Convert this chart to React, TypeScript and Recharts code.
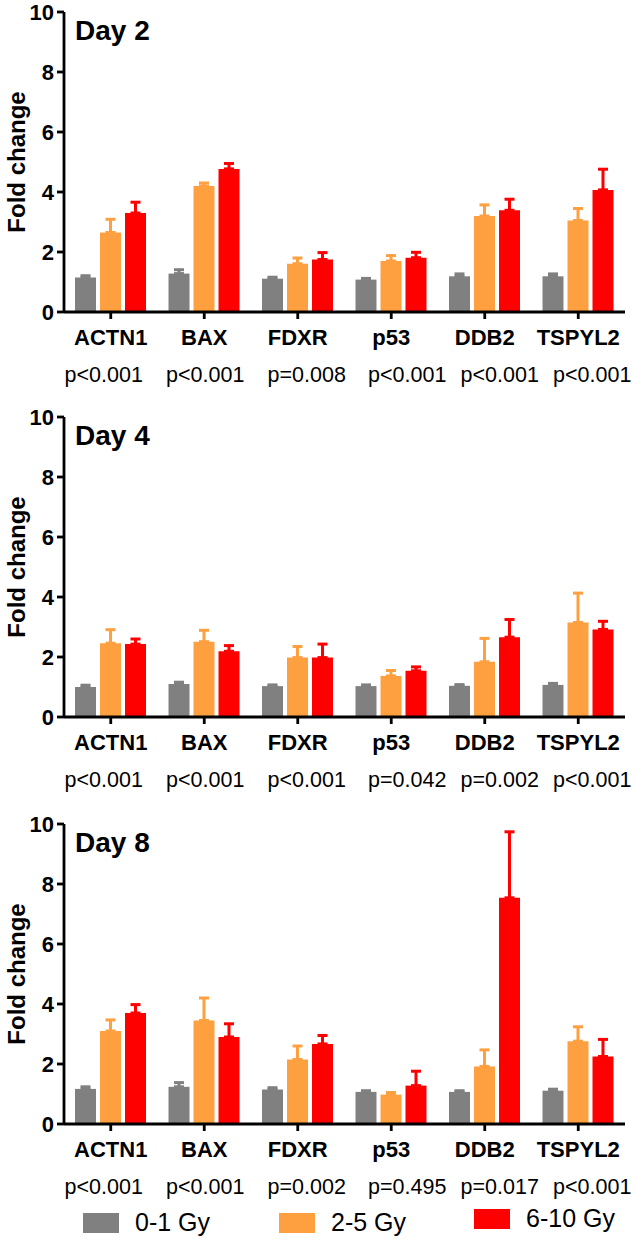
import React from 'react';
import { BarChart, Bar, XAxis, YAxis, ErrorBar } from 'recharts';

const genes = ['ACTN1', 'BAX', 'FDXR', 'p53', 'DDB2', 'TSPYL2'];
const yTicks = [0, 2, 4, 6, 8, 10];
const groupNames = ['0-1 Gy', '2-5 Gy', '6-10 Gy'];
const colors = ['#808080', '#FFA040', '#FF0000'];

// Day 2
const day2Low = [1.15, 1.28, 1.11, 1.08, 1.19, 1.19];
const day2LowErr = [0.06, 0.13, 0.05, 0.04, 0.08, 0.08];
const day2Mid = [2.65, 4.2, 1.61, 1.7, 3.2, 3.05];
const day2MidErr = [0.44, 0.1, 0.19, 0.18, 0.37, 0.4];
const day2High = [3.3, 4.77, 1.75, 1.81, 3.39, 4.07];
const day2HighErr = [0.36, 0.18, 0.23, 0.18, 0.37, 0.69];
const day2P = ['p<0.001', 'p<0.001', 'p=0.008', 'p<0.001', 'p<0.001', 'p<0.001'];

// Day 4
const day4Low = [1.0, 1.1, 1.03, 1.03, 1.04, 1.07];
const day4LowErr = [0.06, 0.06, 0.04, 0.04, 0.04, 0.05];
const day4Mid = [2.46, 2.51, 1.98, 1.37, 1.84, 3.15];
const day4MidErr = [0.45, 0.38, 0.37, 0.18, 0.78, 0.98];
const day4High = [2.43, 2.19, 1.98, 1.54, 2.66, 2.92];
const day4HighErr = [0.17, 0.19, 0.45, 0.13, 0.59, 0.27];
const day4P = ['p<0.001', 'p<0.001', 'p<0.001', 'p=0.042', 'p=0.002', 'p<0.001'];

// Day 8
const day8Low = [1.17, 1.24, 1.15, 1.07, 1.07, 1.11];
const day8LowErr = [0.07, 0.14, 0.06, 0.04, 0.04, 0.05];
const day8Mid = [3.1, 3.45, 2.15, 0.98, 1.92, 2.76];
const day8MidErr = [0.37, 0.75, 0.45, 0.07, 0.55, 0.48];
const day8High = [3.7, 2.9, 2.67, 1.28, 7.54, 2.25];
const day8HighErr = [0.28, 0.44, 0.28, 0.48, 2.2, 0.57];
const day8P = ['p<0.001', 'p<0.001', 'p=0.002', 'p=0.495', 'p=0.017', 'p<0.001'];

const FONT = '"Liberation Sans", Arial, Helvetica, sans-serif';
const pShift = [-7, 1, 9, 16, 15, 14];

function buildRows(lo: number[], loE: number[], mi: number[], miE: number[], hi: number[], hiE: number[]) {
  return genes.map((gene, i) => ({
    gene,
    low: lo[i],
    mid: mi[i],
    high: hi[i],
    lowE: [0, loE[i]],
    midE: [0, miE[i]],
    highE: [0, hiE[i]],
  }));
}

function GeneTick(props: any) {
  const { x, y, payload, index, pvals } = props;
  return (
    <g>
      <text x={x} y={y + 24} textAnchor="middle" fontFamily={FONT} fontWeight="bold" fontSize={22} fill="#000">
        {payload.value}
      </text>
      <text x={x + pShift[index]} y={y + 61} textAnchor="middle" fontFamily={FONT} fontSize={21.5} fill="#000">
        {pvals[index]}
      </text>
    </g>
  );
}

function FoldLabel(props: any) {
  const vb = props.viewBox || { x: 0, y: 12, width: 64, height: 300 };
  const cx = 25;
  const cy = vb.y + vb.height / 2;
  return (
    <text
      x={cx}
      y={cy}
      transform={`rotate(-90, ${cx}, ${cy})`}
      textAnchor="middle"
      fontFamily={FONT}
      fontWeight="bold"
      fontSize={24}
      fill="#000"
    >
      Fold change
    </text>
  );
}

function Panel({ title, rows, pvals, top }: { title: string; rows: any[]; pvals: string[]; top: number }) {
  return (
    <div style={{ position: 'absolute', left: 0, top, width: 633, height: 400 }}>
      <BarChart
        width={633}
        height={400}
        data={rows}
        margin={{ top: 12, right: 8, left: 0, bottom: 0 }}
        barGap={4}
        barSize={21}
      >
        <XAxis
          dataKey="gene"
          height={88}
          interval={0}
          tickSize={7}
          tickMargin={2}
          stroke="#000"
          axisLine={{ stroke: '#000', strokeWidth: 2.8 }}
          tickLine={{ stroke: '#000', strokeWidth: 2.8 }}
          tick={(p: any) => <GeneTick {...p} pvals={pvals} />}
        />
        <YAxis
          domain={[0, 10]}
          ticks={yTicks}
          interval={0}
          width={64}
          tickSize={7}
          tickMargin={3}
          stroke="#000"
          axisLine={{ stroke: '#000', strokeWidth: 2.8 }}
          tickLine={{ stroke: '#000', strokeWidth: 2.8 }}
          tick={{ fontFamily: FONT, fontWeight: 'bold', fontSize: 22, fill: '#000' }}
          label={<FoldLabel />}
        />
        <Bar dataKey="low" name={groupNames[0]} fill={colors[0]} isAnimationActive={false}>
          <ErrorBar dataKey="lowE" width={5} strokeWidth={3} stroke={colors[0]} isAnimationActive={false} />
        </Bar>
        <Bar dataKey="mid" name={groupNames[1]} fill={colors[1]} isAnimationActive={false}>
          <ErrorBar dataKey="midE" width={5} strokeWidth={3} stroke={colors[1]} isAnimationActive={false} />
        </Bar>
        <Bar dataKey="high" name={groupNames[2]} fill={colors[2]} isAnimationActive={false}>
          <ErrorBar dataKey="highE" width={5} strokeWidth={3} stroke={colors[2]} isAnimationActive={false} />
        </Bar>
      </BarChart>
      <svg width={200} height={50} style={{ position: 'absolute', left: 0, top: 0, pointerEvents: 'none' }}>
        <text x={75} y={40} fontFamily={FONT} fontWeight="bold" fontSize={28} fill="#000">
          {title}
        </text>
      </svg>
    </div>
  );
}

const legendBoxX = [83, 279, 474];
const legendDy = [0, 0, -4];

export default function App() {
  const rows2 = buildRows(day2Low, day2LowErr, day2Mid, day2MidErr, day2High, day2HighErr);
  const rows4 = buildRows(day4Low, day4LowErr, day4Mid, day4MidErr, day4High, day4HighErr);
  const rows8 = buildRows(day8Low, day8LowErr, day8Mid, day8MidErr, day8High, day8HighErr);
  return (
    <div style={{ position: 'absolute', left: 0, top: 0, width: 633, height: 1240, background: '#fff' }}>
      <Panel title="Day 2" rows={rows2} pvals={day2P} top={0} />
      <Panel title="Day 4" rows={rows4} pvals={day4P} top={405} />
      <Panel title="Day 8" rows={rows8} pvals={day8P} top={812} />
      <svg width={633} height={40} style={{ position: 'absolute', left: 0, top: 1200 }}>
        {groupNames.map((n, i) => (
          <g key={n}>
            <rect x={legendBoxX[i]} y={13 + legendDy[i]} width={36} height={20} fill={colors[i]} />
            <text x={legendBoxX[i] + 52} y={30.5 + legendDy[i]} fontFamily={FONT} fontSize={25} fill="#000">
              {n}
            </text>
          </g>
        ))}
      </svg>
    </div>
  );
}
